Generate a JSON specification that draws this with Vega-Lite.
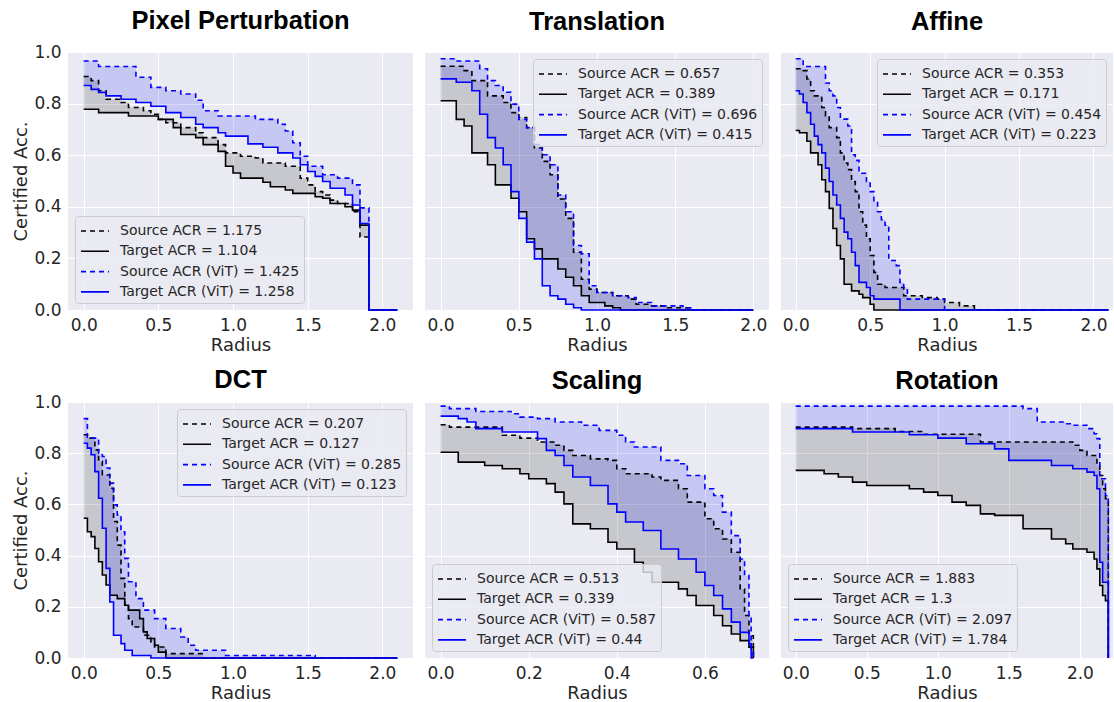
{
"$schema": "https://vega.github.io/schema/vega-lite/v6.json",
"padding": {"left": 12, "top": 9, "right": 0, "bottom": 0},
"background": "white",
"columns": 3,
"spacing": {"row": 92, "column": 12},
"bounds": "flush",
"align": "each",
"resolve": {"scale": {"x": "independent", "y": "independent", "color": "independent", "strokeDash": "independent"}, "legend": {"color": "independent", "strokeDash": "independent"}, "axis": {"x": "independent", "y": "independent"}},
"config": {
 "view": {"fill": "#EAEAF2", "stroke": null},
 "font": "DejaVu Sans",
 "axis": {"grid": true, "gridColor": "#FFFFFF", "gridWidth": 1, "domain": false, "ticks": false, "labelFont": "DejaVu Sans", "labelFontSize": 17, "labelColor": "#262626", "labelPadding": 7, "titleFont": "DejaVu Sans", "titleFontSize": 18, "titleFontWeight": "normal", "titleColor": "#262626", "titlePadding": 3},
 "axisX": {"labelFlush": false},
 "title": {"font": "Liberation Sans", "fontSize": 25.5, "fontWeight": "bold", "color": "black", "anchor": "middle", "frame": "group", "baseline": "alphabetic", "offset": 17},
 "legend": {"labelFont": "DejaVu Sans", "labelFontSize": 14, "labelColor": "#262626", "labelLimit": 0, "symbolType": "M-1.4,0L1.4,0", "symbolSize": 400, "symbolStrokeWidth": 1.6, "symbolOffset": 5, "labelOffset": 14, "padding": 4, "rowPadding": 2.3, "fillColor": "rgba(234,234,242,0.8)", "strokeColor": "#cccccc", "cornerRadius": 3, "offset": 7}
},
"concat": [
{
 "width": 345, "height": 258,
 "title": {"text": "Pixel Perturbation", "offset": 8.5},
 "data": {"values": [
  {"r":0,"s":0.905,"t":0.778,"sv":0.965,"tv":0.87},
  {"r":0.05,"s":0.889,"t":0.778,"sv":0.965,"tv":0.855},
  {"r":0.1,"s":0.85,"t":0.765,"sv":0.944,"tv":0.843},
  {"r":0.15,"s":0.817,"t":0.765,"sv":0.944,"tv":0.83},
  {"r":0.2,"s":0.817,"t":0.765,"sv":0.944,"tv":0.83},
  {"r":0.25,"s":0.804,"t":0.765,"sv":0.944,"tv":0.817},
  {"r":0.3,"s":0.785,"t":0.752,"sv":0.944,"tv":0.817},
  {"r":0.35,"s":0.785,"t":0.752,"sv":0.902,"tv":0.804},
  {"r":0.4,"s":0.772,"t":0.752,"sv":0.902,"tv":0.804},
  {"r":0.45,"s":0.759,"t":0.752,"sv":0.863,"tv":0.79},
  {"r":0.5,"s":0.739,"t":0.739,"sv":0.863,"tv":0.79},
  {"r":0.55,"s":0.726,"t":0.739,"sv":0.85,"tv":0.765},
  {"r":0.6,"s":0.726,"t":0.707,"sv":0.85,"tv":0.765},
  {"r":0.65,"s":0.707,"t":0.68,"sv":0.837,"tv":0.746},
  {"r":0.7,"s":0.707,"t":0.68,"sv":0.837,"tv":0.746},
  {"r":0.75,"s":0.687,"t":0.668,"sv":0.813,"tv":0.72},
  {"r":0.8,"s":0.668,"t":0.641,"sv":0.772,"tv":0.707},
  {"r":0.85,"s":0.668,"t":0.641,"sv":0.772,"tv":0.707},
  {"r":0.9,"s":0.641,"t":0.615,"sv":0.752,"tv":0.687},
  {"r":0.95,"s":0.609,"t":0.557,"sv":0.752,"tv":0.674},
  {"r":1.0,"s":0.609,"t":0.531,"sv":0.752,"tv":0.674},
  {"r":1.05,"s":0.596,"t":0.511,"sv":0.752,"tv":0.674},
  {"r":1.1,"s":0.596,"t":0.511,"sv":0.752,"tv":0.644},
  {"r":1.15,"s":0.589,"t":0.511,"sv":0.739,"tv":0.644},
  {"r":1.2,"s":0.57,"t":0.495,"sv":0.739,"tv":0.631},
  {"r":1.25,"s":0.57,"t":0.478,"sv":0.739,"tv":0.631},
  {"r":1.3,"s":0.57,"t":0.478,"sv":0.72,"tv":0.609},
  {"r":1.35,"s":0.557,"t":0.465,"sv":0.694,"tv":0.609},
  {"r":1.4,"s":0.557,"t":0.452,"sv":0.648,"tv":0.589},
  {"r":1.45,"s":0.511,"t":0.452,"sv":0.596,"tv":0.563},
  {"r":1.5,"s":0.485,"t":0.452,"sv":0.557,"tv":0.537},
  {"r":1.55,"s":0.459,"t":0.439,"sv":0.557,"tv":0.518},
  {"r":1.6,"s":0.446,"t":0.433,"sv":0.524,"tv":0.498},
  {"r":1.65,"s":0.426,"t":0.413,"sv":0.524,"tv":0.472},
  {"r":1.7,"s":0.413,"t":0.413,"sv":0.511,"tv":0.472},
  {"r":1.75,"s":0.413,"t":0.4,"sv":0.511,"tv":0.446},
  {"r":1.8,"s":0.381,"t":0.387,"sv":0.485,"tv":0.407},
  {"r":1.85,"s":0.283,"t":0.329,"sv":0.396,"tv":0.335},
  {"r":1.91,"s":0,"t":0,"sv":0,"tv":0},
  {"r":2.1,"s":0,"t":0,"sv":0,"tv":0}
 ]},
 "encoding": {"x": {"field": "r", "type": "quantitative", "scale": {"domain": [-0.105, 2.205], "nice": false, "zero": false}, "axis": {"values": [0, 0.5, 1, 1.5, 2], "format": ".1f", "title": "Radius"}}},
 "layer": [
  {"mark": {"type": "area", "interpolate": "step-after", "color": "black", "opacity": 0.15}, "encoding": {"y": {"field": "s", "type": "quantitative", "scale": {"domain": [0, 1], "nice": false}, "axis": {"values": [0, 0.2, 0.4, 0.6, 0.8, 1], "format": ".1f", "title": "Certified Acc."}}, "y2": {"field": "t"}}},
  {"mark": {"type": "area", "interpolate": "step-after", "color": "blue", "opacity": 0.15}, "encoding": {"y": {"field": "sv", "type": "quantitative", "axis": {"values": [0, 0.2, 0.4, 0.6, 0.8, 1], "format": ".1f", "title": "Certified Acc."}}, "y2": {"field": "tv"}}},
  {"transform": [{"fold": ["s", "t", "sv", "tv"], "as": ["series", "acc"]}], "mark": {"type": "line", "interpolate": "step-after", "strokeWidth": 1.6},
   "encoding": {"y": {"field": "acc", "type": "quantitative", "axis": {"values": [0, 0.2, 0.4, 0.6, 0.8, 1], "format": ".1f", "title": "Certified Acc."}},
    "color": {"field": "series", "type": "nominal", "scale": {"domain": ["s", "t", "sv", "tv"], "range": ["black", "black", "blue", "blue"]}, "legend": {"orient": "bottom-left", "title": null, "labelExpr": "datum.label == 's' ? 'Source ACR = 1.175' : datum.label == 't' ? 'Target ACR = 1.104' : datum.label == 'sv' ? 'Source ACR (ViT) = 1.425' : 'Target ACR (ViT) = 1.258'"}},
    "strokeDash": {"field": "series", "type": "nominal", "scale": {"domain": ["s", "t", "sv", "tv"], "range": [[5, 4], [1, 0], [5, 4], [1, 0]]}, "legend": {"orient": "bottom-left", "title": null, "labelExpr": "datum.label == 's' ? 'Source ACR = 1.175' : datum.label == 't' ? 'Target ACR = 1.104' : datum.label == 'sv' ? 'Source ACR (ViT) = 1.425' : 'Target ACR (ViT) = 1.258'"}}}}
 ]
},
{
 "width": 344, "height": 258,
 "title": {"text": "Translation"},
 "data": {"values": [
  {"r":0,"s":0.945,"t":0.811,"sv":0.974,"tv":0.896},
  {"r":0.05,"s":0.945,"t":0.811,"sv":0.974,"tv":0.896},
  {"r":0.1,"s":0.945,"t":0.739,"sv":0.965,"tv":0.883},
  {"r":0.15,"s":0.928,"t":0.713,"sv":0.965,"tv":0.883},
  {"r":0.2,"s":0.889,"t":0.609,"sv":0.965,"tv":0.85},
  {"r":0.25,"s":0.889,"t":0.609,"sv":0.935,"tv":0.759},
  {"r":0.3,"s":0.83,"t":0.563,"sv":0.889,"tv":0.668},
  {"r":0.35,"s":0.83,"t":0.485,"sv":0.87,"tv":0.628},
  {"r":0.4,"s":0.804,"t":0.485,"sv":0.844,"tv":0.563},
  {"r":0.45,"s":0.765,"t":0.433,"sv":0.798,"tv":0.459},
  {"r":0.5,"s":0.746,"t":0.381,"sv":0.739,"tv":0.355},
  {"r":0.55,"s":0.707,"t":0.276,"sv":0.707,"tv":0.263},
  {"r":0.6,"s":0.628,"t":0.237,"sv":0.641,"tv":0.198},
  {"r":0.65,"s":0.576,"t":0.198,"sv":0.602,"tv":0.094},
  {"r":0.7,"s":0.524,"t":0.198,"sv":0.563,"tv":0.055},
  {"r":0.75,"s":0.43,"t":0.159,"sv":0.446,"tv":0.042},
  {"r":0.8,"s":0.355,"t":0.127,"sv":0.381,"tv":0.022},
  {"r":0.85,"s":0.224,"t":0.094,"sv":0.25,"tv":0.009},
  {"r":0.9,"s":0.119,"t":0.055,"sv":0.218,"tv":0},
  {"r":0.95,"s":0.081,"t":0.029,"sv":0.094,"tv":0},
  {"r":1.0,"s":0.068,"t":0.029,"sv":0.068,"tv":0},
  {"r":1.05,"s":0.068,"t":0.016,"sv":0.068,"tv":0},
  {"r":1.1,"s":0.055,"t":0.009,"sv":0.055,"tv":0},
  {"r":1.15,"s":0.055,"t":0,"sv":0.055,"tv":0},
  {"r":1.2,"s":0.042,"t":0,"sv":0.048,"tv":0},
  {"r":1.25,"s":0.022,"t":0,"sv":0.029,"tv":0},
  {"r":1.3,"s":0.022,"t":0,"sv":0.029,"tv":0},
  {"r":1.35,"s":0.016,"t":0,"sv":0.016,"tv":0},
  {"r":1.45,"s":0.009,"t":0,"sv":0.016,"tv":0},
  {"r":1.55,"s":0.009,"t":0,"sv":0.009,"tv":0},
  {"r":1.6,"s":0,"t":0,"sv":0,"tv":0},
  {"r":2.0,"s":0,"t":0,"sv":0,"tv":0}
 ]},
 "encoding": {"x": {"field": "r", "type": "quantitative", "scale": {"domain": [-0.1, 2.1], "nice": false, "zero": false}, "axis": {"values": [0, 0.5, 1, 1.5, 2], "format": ".1f", "title": "Radius"}}},
 "layer": [
  {"mark": {"type": "area", "interpolate": "step-after", "color": "black", "opacity": 0.15}, "encoding": {"y": {"field": "s", "type": "quantitative", "scale": {"domain": [0, 1], "nice": false}, "axis": {"values": [0, 0.2, 0.4, 0.6, 0.8, 1], "labels": false, "title": null}}, "y2": {"field": "t"}}},
  {"mark": {"type": "area", "interpolate": "step-after", "color": "blue", "opacity": 0.15}, "encoding": {"y": {"field": "sv", "type": "quantitative", "axis": {"values": [0, 0.2, 0.4, 0.6, 0.8, 1], "labels": false, "title": null}}, "y2": {"field": "tv"}}},
  {"transform": [{"fold": ["s", "t", "sv", "tv"], "as": ["series", "acc"]}], "mark": {"type": "line", "interpolate": "step-after", "strokeWidth": 1.6},
   "encoding": {"y": {"field": "acc", "type": "quantitative", "axis": {"values": [0, 0.2, 0.4, 0.6, 0.8, 1], "labels": false, "title": null}},
    "color": {"field": "series", "type": "nominal", "scale": {"domain": ["s", "t", "sv", "tv"], "range": ["black", "black", "blue", "blue"]}, "legend": {"orient": "top-right", "title": null, "labelExpr": "datum.label == 's' ? 'Source ACR = 0.657' : datum.label == 't' ? 'Target ACR = 0.389' : datum.label == 'sv' ? 'Source ACR (ViT) = 0.696' : 'Target ACR (ViT) = 0.415'"}},
    "strokeDash": {"field": "series", "type": "nominal", "scale": {"domain": ["s", "t", "sv", "tv"], "range": [[5, 4], [1, 0], [5, 4], [1, 0]]}, "legend": {"orient": "top-right", "title": null, "labelExpr": "datum.label == 's' ? 'Source ACR = 0.657' : datum.label == 't' ? 'Target ACR = 0.389' : datum.label == 'sv' ? 'Source ACR (ViT) = 0.696' : 'Target ACR (ViT) = 0.415'"}}}}
 ]
},
{
 "width": 332, "height": 258,
 "title": {"text": "Affine"},
 "data": {"values": [
  {"r":0,"s":0.935,"t":0.696,"sv":0.974,"tv":0.85},
  {"r":0.025,"s":0.935,"t":0.687,"sv":0.974,"tv":0.837},
  {"r":0.05,"s":0.928,"t":0.687,"sv":0.944,"tv":0.804},
  {"r":0.075,"s":0.896,"t":0.654,"sv":0.944,"tv":0.765},
  {"r":0.1,"s":0.85,"t":0.609,"sv":0.944,"tv":0.72},
  {"r":0.125,"s":0.83,"t":0.609,"sv":0.944,"tv":0.674},
  {"r":0.15,"s":0.83,"t":0.563,"sv":0.944,"tv":0.641},
  {"r":0.175,"s":0.785,"t":0.505,"sv":0.944,"tv":0.609},
  {"r":0.2,"s":0.752,"t":0.459,"sv":0.88,"tv":0.55},
  {"r":0.225,"s":0.707,"t":0.394,"sv":0.85,"tv":0.498},
  {"r":0.25,"s":0.707,"t":0.316,"sv":0.83,"tv":0.446},
  {"r":0.275,"s":0.668,"t":0.25,"sv":0.785,"tv":0.407},
  {"r":0.3,"s":0.609,"t":0.198,"sv":0.74,"tv":0.355},
  {"r":0.325,"s":0.57,"t":0.1,"sv":0.74,"tv":0.302},
  {"r":0.35,"s":0.544,"t":0.1,"sv":0.713,"tv":0.276},
  {"r":0.375,"s":0.498,"t":0.074,"sv":0.602,"tv":0.224},
  {"r":0.4,"s":0.459,"t":0.074,"sv":0.58,"tv":0.172},
  {"r":0.425,"s":0.381,"t":0.061,"sv":0.53,"tv":0.107},
  {"r":0.45,"s":0.329,"t":0.048,"sv":0.53,"tv":0.107},
  {"r":0.475,"s":0.276,"t":0.048,"sv":0.498,"tv":0.087},
  {"r":0.5,"s":0.211,"t":0.022,"sv":0.459,"tv":0.055},
  {"r":0.525,"s":0.146,"t":0,"sv":0.42,"tv":0.042},
  {"r":0.55,"s":0.1,"t":0,"sv":0.381,"tv":0.042},
  {"r":0.575,"s":0.1,"t":0,"sv":0.35,"tv":0.042},
  {"r":0.6,"s":0.087,"t":0,"sv":0.329,"tv":0.042},
  {"r":0.625,"s":0.087,"t":0,"sv":0.192,"tv":0.042},
  {"r":0.65,"s":0.087,"t":0,"sv":0.192,"tv":0.042},
  {"r":0.675,"s":0.087,"t":0,"sv":0.172,"tv":0.042},
  {"r":0.7,"s":0.087,"t":0,"sv":0.107,"tv":0},
  {"r":0.725,"s":0.055,"t":0,"sv":0.087,"tv":0},
  {"r":0.75,"s":0.055,"t":0,"sv":0.042,"tv":0},
  {"r":0.85,"s":0.048,"t":0,"sv":0.042,"tv":0},
  {"r":0.95,"s":0.042,"t":0,"sv":0.042,"tv":0},
  {"r":1.0,"s":0.029,"t":0,"sv":0,"tv":0},
  {"r":1.1,"s":0.016,"t":0,"sv":0,"tv":0},
  {"r":1.2,"s":0,"t":0,"sv":0,"tv":0},
  {"r":2.1,"s":0,"t":0,"sv":0,"tv":0}
 ]},
 "encoding": {"x": {"field": "r", "type": "quantitative", "scale": {"domain": [-0.099, 2.131], "nice": false, "zero": false}, "axis": {"values": [0, 0.5, 1, 1.5, 2], "format": ".1f", "title": "Radius"}}},
 "layer": [
  {"mark": {"type": "area", "interpolate": "step-after", "color": "black", "opacity": 0.15}, "encoding": {"y": {"field": "s", "type": "quantitative", "scale": {"domain": [0, 1], "nice": false}, "axis": {"values": [0, 0.2, 0.4, 0.6, 0.8, 1], "labels": false, "title": null}}, "y2": {"field": "t"}}},
  {"mark": {"type": "area", "interpolate": "step-after", "color": "blue", "opacity": 0.15}, "encoding": {"y": {"field": "sv", "type": "quantitative", "axis": {"values": [0, 0.2, 0.4, 0.6, 0.8, 1], "labels": false, "title": null}}, "y2": {"field": "tv"}}},
  {"transform": [{"fold": ["s", "t", "sv", "tv"], "as": ["series", "acc"]}], "mark": {"type": "line", "interpolate": "step-after", "strokeWidth": 1.6},
   "encoding": {"y": {"field": "acc", "type": "quantitative", "axis": {"values": [0, 0.2, 0.4, 0.6, 0.8, 1], "labels": false, "title": null}},
    "color": {"field": "series", "type": "nominal", "scale": {"domain": ["s", "t", "sv", "tv"], "range": ["black", "black", "blue", "blue"]}, "legend": {"orient": "top-right", "title": null, "labelExpr": "datum.label == 's' ? 'Source ACR = 0.353' : datum.label == 't' ? 'Target ACR = 0.171' : datum.label == 'sv' ? 'Source ACR (ViT) = 0.454' : 'Target ACR (ViT) = 0.223'"}},
    "strokeDash": {"field": "series", "type": "nominal", "scale": {"domain": ["s", "t", "sv", "tv"], "range": [[5, 4], [1, 0], [5, 4], [1, 0]]}, "legend": {"orient": "top-right", "title": null, "labelExpr": "datum.label == 's' ? 'Source ACR = 0.353' : datum.label == 't' ? 'Target ACR = 0.171' : datum.label == 'sv' ? 'Source ACR (ViT) = 0.454' : 'Target ACR (ViT) = 0.223'"}}}}
 ]
},
{
 "width": 345, "height": 256,
 "title": {"text": "DCT", "offset": -0.5},
 "data": {"values": [
  {"r":0,"s":0.872,"t":0.546,"sv":0.935,"tv":0.839},
  {"r":0.025,"s":0.859,"t":0.493,"sv":0.859,"tv":0.82},
  {"r":0.05,"s":0.859,"t":0.474,"sv":0.859,"tv":0.794},
  {"r":0.075,"s":0.813,"t":0.428,"sv":0.859,"tv":0.728},
  {"r":0.1,"s":0.768,"t":0.376,"sv":0.8,"tv":0.624},
  {"r":0.125,"s":0.715,"t":0.324,"sv":0.787,"tv":0.507},
  {"r":0.15,"s":0.715,"t":0.285,"sv":0.742,"tv":0.35},
  {"r":0.175,"s":0.663,"t":0.245,"sv":0.683,"tv":0.219},
  {"r":0.2,"s":0.533,"t":0.245,"sv":0.598,"tv":0.089},
  {"r":0.225,"s":0.441,"t":0.232,"sv":0.559,"tv":0.089},
  {"r":0.25,"s":0.311,"t":0.232,"sv":0.493,"tv":0.056},
  {"r":0.275,"s":0.206,"t":0.206,"sv":0.389,"tv":0.03},
  {"r":0.3,"s":0.154,"t":0.187,"sv":0.298,"tv":0.03},
  {"r":0.325,"s":0.121,"t":0.187,"sv":0.298,"tv":0.01},
  {"r":0.35,"s":0.121,"t":0.187,"sv":0.232,"tv":0.01},
  {"r":0.375,"s":0.121,"t":0.154,"sv":0.232,"tv":0.01},
  {"r":0.4,"s":0.089,"t":0.102,"sv":0.187,"tv":0.01},
  {"r":0.425,"s":0.089,"t":0.076,"sv":0.187,"tv":0.01},
  {"r":0.45,"s":0.063,"t":0.076,"sv":0.187,"tv":0},
  {"r":0.475,"s":0.043,"t":0.05,"sv":0.154,"tv":0},
  {"r":0.5,"s":0.043,"t":0.023,"sv":0.154,"tv":0},
  {"r":0.55,"s":0.017,"t":0,"sv":0.115,"tv":0},
  {"r":0.65,"s":0.017,"t":0,"sv":0.082,"tv":0},
  {"r":0.7,"s":0.017,"t":0,"sv":0.05,"tv":0},
  {"r":0.75,"s":0.017,"t":0,"sv":0.03,"tv":0},
  {"r":0.8,"s":0,"t":0,"sv":0.03,"tv":0},
  {"r":0.95,"s":0,"t":0,"sv":0.01,"tv":0},
  {"r":1.55,"s":0,"t":0,"sv":0,"tv":0},
  {"r":2.1,"s":0,"t":0,"sv":0,"tv":0}
 ]},
 "encoding": {"x": {"field": "r", "type": "quantitative", "scale": {"domain": [-0.105, 2.205], "nice": false, "zero": false}, "axis": {"values": [0, 0.5, 1, 1.5, 2], "format": ".1f", "title": "Radius"}}},
 "layer": [
  {"mark": {"type": "area", "interpolate": "step-after", "color": "black", "opacity": 0.15}, "encoding": {"y": {"field": "s", "type": "quantitative", "scale": {"domain": [0, 1], "nice": false}, "axis": {"values": [0, 0.2, 0.4, 0.6, 0.8, 1], "format": ".1f", "title": "Certified Acc."}}, "y2": {"field": "t"}}},
  {"mark": {"type": "area", "interpolate": "step-after", "color": "blue", "opacity": 0.15}, "encoding": {"y": {"field": "sv", "type": "quantitative", "axis": {"values": [0, 0.2, 0.4, 0.6, 0.8, 1], "format": ".1f", "title": "Certified Acc."}}, "y2": {"field": "tv"}}},
  {"transform": [{"fold": ["s", "t", "sv", "tv"], "as": ["series", "acc"]}], "mark": {"type": "line", "interpolate": "step-after", "strokeWidth": 1.6},
   "encoding": {"y": {"field": "acc", "type": "quantitative", "axis": {"values": [0, 0.2, 0.4, 0.6, 0.8, 1], "format": ".1f", "title": "Certified Acc."}},
    "color": {"field": "series", "type": "nominal", "scale": {"domain": ["s", "t", "sv", "tv"], "range": ["black", "black", "blue", "blue"]}, "legend": {"orient": "top-right", "title": null, "labelExpr": "datum.label == 's' ? 'Source ACR = 0.207' : datum.label == 't' ? 'Target ACR = 0.127' : datum.label == 'sv' ? 'Source ACR (ViT) = 0.285' : 'Target ACR (ViT) = 0.123'"}},
    "strokeDash": {"field": "series", "type": "nominal", "scale": {"domain": ["s", "t", "sv", "tv"], "range": [[5, 4], [1, 0], [5, 4], [1, 0]]}, "legend": {"orient": "top-right", "title": null, "labelExpr": "datum.label == 's' ? 'Source ACR = 0.207' : datum.label == 't' ? 'Target ACR = 0.127' : datum.label == 'sv' ? 'Source ACR (ViT) = 0.285' : 'Target ACR (ViT) = 0.123'"}}}}
 ]
},
{
 "width": 344, "height": 256,
 "title": {"text": "Scaling", "offset": 8},
 "data": {"values": [
  {"r":0,"s":0.911,"t":0.804,"sv":0.984,"tv":0.945},
  {"r":0.02,"s":0.902,"t":0.804,"sv":0.974,"tv":0.945},
  {"r":0.04,"s":0.902,"t":0.765,"sv":0.974,"tv":0.935},
  {"r":0.06,"s":0.902,"t":0.765,"sv":0.974,"tv":0.922},
  {"r":0.08,"s":0.902,"t":0.765,"sv":0.963,"tv":0.896},
  {"r":0.1,"s":0.902,"t":0.752,"sv":0.963,"tv":0.896},
  {"r":0.12,"s":0.902,"t":0.752,"sv":0.963,"tv":0.896},
  {"r":0.14,"s":0.87,"t":0.739,"sv":0.963,"tv":0.883},
  {"r":0.16,"s":0.87,"t":0.739,"sv":0.954,"tv":0.883},
  {"r":0.18,"s":0.859,"t":0.72,"sv":0.941,"tv":0.883},
  {"r":0.2,"s":0.859,"t":0.7,"sv":0.941,"tv":0.883},
  {"r":0.22,"s":0.844,"t":0.7,"sv":0.935,"tv":0.857},
  {"r":0.24,"s":0.844,"t":0.681,"sv":0.935,"tv":0.811},
  {"r":0.26,"s":0.831,"t":0.648,"sv":0.922,"tv":0.791},
  {"r":0.28,"s":0.811,"t":0.602,"sv":0.922,"tv":0.752},
  {"r":0.3,"s":0.791,"t":0.524,"sv":0.922,"tv":0.707},
  {"r":0.32,"s":0.791,"t":0.524,"sv":0.909,"tv":0.707},
  {"r":0.34,"s":0.778,"t":0.505,"sv":0.909,"tv":0.674},
  {"r":0.36,"s":0.778,"t":0.505,"sv":0.889,"tv":0.674},
  {"r":0.38,"s":0.772,"t":0.452,"sv":0.889,"tv":0.602},
  {"r":0.4,"s":0.739,"t":0.426,"sv":0.87,"tv":0.57},
  {"r":0.42,"s":0.72,"t":0.426,"sv":0.844,"tv":0.531},
  {"r":0.44,"s":0.72,"t":0.374,"sv":0.824,"tv":0.531},
  {"r":0.46,"s":0.72,"t":0.335,"sv":0.824,"tv":0.498},
  {"r":0.48,"s":0.707,"t":0.296,"sv":0.824,"tv":0.498},
  {"r":0.5,"s":0.694,"t":0.296,"sv":0.772,"tv":0.426},
  {"r":0.52,"s":0.694,"t":0.296,"sv":0.772,"tv":0.426},
  {"r":0.54,"s":0.661,"t":0.27,"sv":0.759,"tv":0.387},
  {"r":0.56,"s":0.609,"t":0.244,"sv":0.713,"tv":0.387},
  {"r":0.58,"s":0.609,"t":0.205,"sv":0.713,"tv":0.335},
  {"r":0.6,"s":0.544,"t":0.205,"sv":0.661,"tv":0.283},
  {"r":0.62,"s":0.505,"t":0.166,"sv":0.635,"tv":0.244},
  {"r":0.64,"s":0.465,"t":0.126,"sv":0.57,"tv":0.192},
  {"r":0.66,"s":0.413,"t":0.094,"sv":0.478,"tv":0.14},
  {"r":0.68,"s":0.27,"t":0.068,"sv":0.387,"tv":0.1},
  {"r":0.69,"s":0.166,"t":0.068,"sv":0.322,"tv":0.1},
  {"r":0.7,"s":0.087,"t":0.042,"sv":0.166,"tv":0.055},
  {"r":0.705,"s":0.087,"t":0.042,"sv":0.035,"tv":0},
  {"r":0.71,"s":0,"t":0,"sv":0,"tv":0}
 ]},
 "encoding": {"x": {"field": "r", "type": "quantitative", "scale": {"domain": [-0.0355, 0.7455], "nice": false, "zero": false}, "axis": {"values": [0, 0.2, 0.4, 0.6], "format": ".1f", "title": "Radius"}}},
 "layer": [
  {"mark": {"type": "area", "interpolate": "step-after", "color": "black", "opacity": 0.15}, "encoding": {"y": {"field": "s", "type": "quantitative", "scale": {"domain": [0, 1], "nice": false}, "axis": {"values": [0, 0.2, 0.4, 0.6, 0.8, 1], "labels": false, "title": null}}, "y2": {"field": "t"}}},
  {"mark": {"type": "area", "interpolate": "step-after", "color": "blue", "opacity": 0.15}, "encoding": {"y": {"field": "sv", "type": "quantitative", "axis": {"values": [0, 0.2, 0.4, 0.6, 0.8, 1], "labels": false, "title": null}}, "y2": {"field": "tv"}}},
  {"transform": [{"fold": ["s", "t", "sv", "tv"], "as": ["series", "acc"]}], "mark": {"type": "line", "interpolate": "step-after", "strokeWidth": 1.6},
   "encoding": {"y": {"field": "acc", "type": "quantitative", "axis": {"values": [0, 0.2, 0.4, 0.6, 0.8, 1], "labels": false, "title": null}},
    "color": {"field": "series", "type": "nominal", "scale": {"domain": ["s", "t", "sv", "tv"], "range": ["black", "black", "blue", "blue"]}, "legend": {"orient": "bottom-left", "title": null, "labelExpr": "datum.label == 's' ? 'Source ACR = 0.513' : datum.label == 't' ? 'Target ACR = 0.339' : datum.label == 'sv' ? 'Source ACR (ViT) = 0.587' : 'Target ACR (ViT) = 0.44'"}},
    "strokeDash": {"field": "series", "type": "nominal", "scale": {"domain": ["s", "t", "sv", "tv"], "range": [[5, 4], [1, 0], [5, 4], [1, 0]]}, "legend": {"orient": "bottom-left", "title": null, "labelExpr": "datum.label == 's' ? 'Source ACR = 0.513' : datum.label == 't' ? 'Target ACR = 0.339' : datum.label == 'sv' ? 'Source ACR (ViT) = 0.587' : 'Target ACR (ViT) = 0.44'"}}}}
 ]
},
{
 "width": 332, "height": 256,
 "title": {"text": "Rotation", "offset": 8},
 "data": {"values": [
  {"r":0,"s":0.902,"t":0.733,"sv":0.984,"tv":0.896},
  {"r":0.1,"s":0.902,"t":0.733,"sv":0.984,"tv":0.896},
  {"r":0.2,"s":0.902,"t":0.72,"sv":0.984,"tv":0.896},
  {"r":0.3,"s":0.902,"t":0.707,"sv":0.984,"tv":0.896},
  {"r":0.4,"s":0.896,"t":0.687,"sv":0.984,"tv":0.883},
  {"r":0.5,"s":0.896,"t":0.674,"sv":0.984,"tv":0.883},
  {"r":0.6,"s":0.896,"t":0.674,"sv":0.984,"tv":0.883},
  {"r":0.7,"s":0.885,"t":0.674,"sv":0.984,"tv":0.883},
  {"r":0.8,"s":0.885,"t":0.661,"sv":0.984,"tv":0.872},
  {"r":0.9,"s":0.874,"t":0.648,"sv":0.984,"tv":0.872},
  {"r":1.0,"s":0.874,"t":0.635,"sv":0.984,"tv":0.859},
  {"r":1.1,"s":0.874,"t":0.609,"sv":0.984,"tv":0.859},
  {"r":1.2,"s":0.874,"t":0.596,"sv":0.984,"tv":0.837},
  {"r":1.3,"s":0.844,"t":0.563,"sv":0.984,"tv":0.837},
  {"r":1.4,"s":0.844,"t":0.557,"sv":0.984,"tv":0.817},
  {"r":1.5,"s":0.844,"t":0.557,"sv":0.984,"tv":0.772},
  {"r":1.6,"s":0.844,"t":0.505,"sv":0.974,"tv":0.772},
  {"r":1.7,"s":0.844,"t":0.505,"sv":0.922,"tv":0.772},
  {"r":1.8,"s":0.844,"t":0.465,"sv":0.922,"tv":0.752},
  {"r":1.9,"s":0.844,"t":0.446,"sv":0.915,"tv":0.752},
  {"r":1.95,"s":0.831,"t":0.426,"sv":0.909,"tv":0.739},
  {"r":2.0,"s":0.811,"t":0.426,"sv":0.909,"tv":0.739},
  {"r":2.05,"s":0.791,"t":0.413,"sv":0.896,"tv":0.726},
  {"r":2.1,"s":0.791,"t":0.387,"sv":0.876,"tv":0.713},
  {"r":2.12,"s":0.752,"t":0.348,"sv":0.857,"tv":0.661},
  {"r":2.14,"s":0.713,"t":0.283,"sv":0.7,"tv":0.374},
  {"r":2.16,"s":0.661,"t":0.244,"sv":0.7,"tv":0.296},
  {"r":2.18,"s":0.622,"t":0.224,"sv":0.635,"tv":0.296},
  {"r":2.2,"s":0,"t":0,"sv":0,"tv":0}
 ]},
 "encoding": {"x": {"field": "r", "type": "quantitative", "scale": {"domain": [-0.1034, 2.233], "nice": false, "zero": false}, "axis": {"values": [0, 0.5, 1, 1.5, 2], "format": ".1f", "title": "Radius"}}},
 "layer": [
  {"mark": {"type": "area", "interpolate": "step-after", "color": "black", "opacity": 0.15}, "encoding": {"y": {"field": "s", "type": "quantitative", "scale": {"domain": [0, 1], "nice": false}, "axis": {"values": [0, 0.2, 0.4, 0.6, 0.8, 1], "labels": false, "title": null}}, "y2": {"field": "t"}}},
  {"mark": {"type": "area", "interpolate": "step-after", "color": "blue", "opacity": 0.15}, "encoding": {"y": {"field": "sv", "type": "quantitative", "axis": {"values": [0, 0.2, 0.4, 0.6, 0.8, 1], "labels": false, "title": null}}, "y2": {"field": "tv"}}},
  {"transform": [{"fold": ["s", "t", "sv", "tv"], "as": ["series", "acc"]}], "mark": {"type": "line", "interpolate": "step-after", "strokeWidth": 1.6},
   "encoding": {"y": {"field": "acc", "type": "quantitative", "axis": {"values": [0, 0.2, 0.4, 0.6, 0.8, 1], "labels": false, "title": null}},
    "color": {"field": "series", "type": "nominal", "scale": {"domain": ["s", "t", "sv", "tv"], "range": ["black", "black", "blue", "blue"]}, "legend": {"orient": "bottom-left", "title": null, "labelExpr": "datum.label == 's' ? 'Source ACR = 1.883' : datum.label == 't' ? 'Target ACR = 1.3' : datum.label == 'sv' ? 'Source ACR (ViT) = 2.097' : 'Target ACR (ViT) = 1.784'"}},
    "strokeDash": {"field": "series", "type": "nominal", "scale": {"domain": ["s", "t", "sv", "tv"], "range": [[5, 4], [1, 0], [5, 4], [1, 0]]}, "legend": {"orient": "bottom-left", "title": null, "labelExpr": "datum.label == 's' ? 'Source ACR = 1.883' : datum.label == 't' ? 'Target ACR = 1.3' : datum.label == 'sv' ? 'Source ACR (ViT) = 2.097' : 'Target ACR (ViT) = 1.784'"}}}}
 ]
}
]
}
